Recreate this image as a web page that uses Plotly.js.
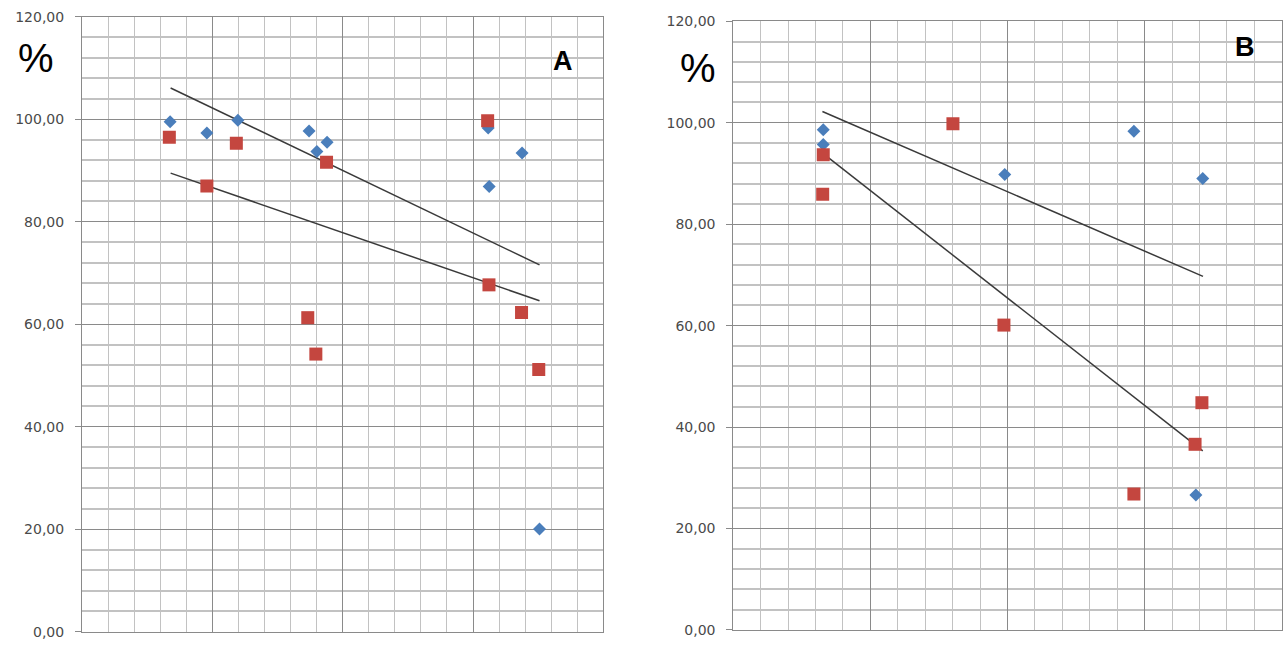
<!DOCTYPE html>
<html>
<head>
<meta charset="utf-8">
<script src="https://cdn.plot.ly/plotly-3.0.1.min.js"></script>
<style>
  html, body { margin: 0; padding: 0; background: #fff; }
  #chart { width: 1284px; height: 645px; }
</style>
</head>
<body>
<div id="chart"></div>
<script>
(function () {

	'use strict';

	// panel A (x has no labels, grid units 0..20)
	const blueXA = [3.38, 4.79, 5.98, 8.71, 9.01, 9.40, 15.58, 15.62, 16.88, 17.55];
	const blueYA = [99.5, 97.3, 99.8, 97.7, 93.7, 95.5, 98.3, 86.9, 93.4, 20.1];
	const redXA  = [3.35, 4.79, 5.92, 8.66, 8.97, 9.38, 15.56, 15.61, 16.86, 17.52];
	const redYA  = [96.5, 87.0, 95.3, 61.3, 54.2, 91.6, 99.7, 67.7, 62.3, 51.2];
	const trendBlueXA = [3.40, 17.55];
	const trendBlueYA = [106.1, 71.6];
	const trendRedXA  = [3.40, 17.55];
	const trendRedYA  = [89.5, 64.6];

	// panel B
	const blueXB = [3.28, 3.28, 9.90, 14.61, 17.12, 16.87];
	const blueYB = [98.6, 95.7, 89.8, 98.3, 89.0, 26.6];
	const redXB  = [3.28, 3.26, 8.01, 9.87, 14.61, 16.84, 17.09];
	const redYB  = [93.7, 85.9, 99.8, 60.1, 26.8, 36.6, 44.8];
	const trendBlueXB = [3.25, 17.13];
	const trendBlueYB = [102.2, 69.7];
	const trendRedXB  = [3.28, 17.12];
	const trendRedYB  = [93.9, 35.3];

	const panelLabels = ['A', 'B'];
	const yTitle = '%';

	const blue = '#4a7ebb';
	const red = '#c4463f';
	const lineCol = '#3a3a3a';
	const majorGrid = '#8a8a8a';
	const minorGrid = '#c2c2c2';

	/**
	* one panel worth of traces
	*/
	const panelTraces = ( xa, ya, p ) => {
		const base = { xaxis: xa, yaxis: ya, showlegend: false, hoverinfo: 'x+y' };
		return [
			Object.assign({}, base, {
				x: p.tbx, y: p.tby, mode: 'lines', type: 'scatter',
				line: { color: lineCol, width: 1.5 }
			}),
			Object.assign({}, base, {
				x: p.trx, y: p.try, mode: 'lines', type: 'scatter',
				line: { color: lineCol, width: 1.5 }
			}),
			Object.assign({}, base, {
				x: p.bx, y: p.by, mode: 'markers', type: 'scatter',
				marker: { symbol: 'diamond', size: 10, color: blue }
			}),
			Object.assign({}, base, {
				x: p.rx, y: p.ry, mode: 'markers', type: 'scatter',
				marker: { symbol: 'square', size: 13, color: red }
			}),
		];
	};

	const data = [].concat(
		panelTraces('x', 'y', {
			bx: blueXA, by: blueYA, rx: redXA, ry: redYA,
			tbx: trendBlueXA, tby: trendBlueYA, trx: trendRedXA, try: trendRedYA
		}),
		panelTraces('x2', 'y2', {
			bx: blueXB, by: blueYB, rx: redXB, ry: redYB,
			tbx: trendBlueXB, tby: trendBlueYB, trx: trendRedXB, try: trendRedYB
		})
	);

	const xAxis = ( domain, anchor ) => ({
		domain, anchor,
		range: [0, 20],
		dtick: 5, tick0: 0,
		showticklabels: false,
		ticks: '',
		showgrid: true, gridcolor: majorGrid, gridwidth: 1,
		minor: { dtick: 1, tick0: 0, showgrid: true, gridcolor: minorGrid, gridwidth: 1 },
		showline: true, linecolor: majorGrid, linewidth: 1, mirror: true,
		zeroline: false, fixedrange: true,
	});

	const yAxis = ( domain, anchor ) => ({
		domain, anchor,
		range: [0, 120],
		dtick: 20, tick0: 0,
		tickformat: '.2f',
		ticks: 'outside', ticklen: 6, tickcolor: majorGrid,
		ticklabelstandoff: 8,
		tickfont: { family: 'DejaVu Sans', size: 14, color: '#4a4a4a' },
		showgrid: true, gridcolor: majorGrid, gridwidth: 1.3,
		minor: { dtick: 4, tick0: 0, showgrid: true, gridcolor: minorGrid, gridwidth: 1.6 },
		showline: true, linecolor: majorGrid, linewidth: 1, mirror: true,
		zeroline: false, fixedrange: true,
	});

	const bigText = ( text, x, y, size, bold ) => ({
		text: bold ? '<b>' + text + '</b>' : text,
		xref: 'paper', yref: 'paper', x, y,
		xanchor: 'center', yanchor: 'middle',
		showarrow: false,
		font: { family: 'Liberation Sans', size, color: '#000' }
	});

	const layout = {
		width: 1284, height: 645,
		margin: { l: 0, r: 0, t: 0, b: 0 },
		paper_bgcolor: '#fff', plot_bgcolor: '#fff',
		separators: ', ',
		xaxis: xAxis([0.06386, 0.46994], 'y'),
		yaxis: yAxis([0.0202, 0.9741], 'x'),
		xaxis2: xAxis([0.57111, 0.99821], 'y2'),
		yaxis2: yAxis([0.0233, 0.9671], 'x2'),
		annotations: [
			bigText(yTitle, 0.0280, 0.9101, 40, false),
			bigText(yTitle, 0.5436, 0.8946, 40, false),
			bigText(panelLabels[0], 0.4385, 0.9054, 27, true),
			bigText(panelLabels[1], 0.9696, 0.9271, 27, true),
		],
	};

	Plotly.newPlot('chart', data, layout, { displayModeBar: false, responsive: false });

})();
</script>
</body>
</html>
